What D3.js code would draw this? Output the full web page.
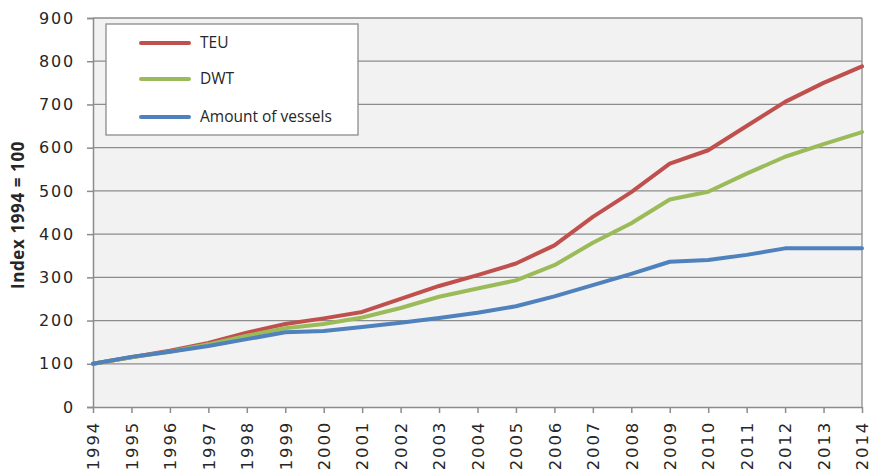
<!DOCTYPE html>
<html>
<head>
<meta charset="utf-8">
<script src="https://cdn.jsdelivr.net/npm/d3@7"></script>
<style>
  html, body { margin: 0; padding: 0; background: #ffffff; }
  svg { display: block; }
  text { font-family: "Open Sans", "Liberation Sans", sans-serif; fill: #262626; }
</style>
</head>
<body>
<svg id="chart" width="875" height="470"></svg>
<script>
// Fleet growth indexed to 1994 = 100
const years = [1994, 1995, 1996, 1997, 1998, 1999, 2000, 2001, 2002, 2003, 2004,
               2005, 2006, 2007, 2008, 2009, 2010, 2011, 2012, 2013, 2014];
const teu     = [100, 115, 130, 148, 172, 192, 205, 220, 250, 280, 305,
                 332, 374, 440, 497, 563, 594, 650, 706, 750, 788];
const dwt     = [100, 115, 128, 145, 165, 182, 192, 207, 229, 255, 274,
                 293, 328, 380, 425, 480, 498, 540, 579, 608, 636];
const vessels = [100, 116, 128, 141, 157, 173, 176, 185, 195, 206, 218,
                 233, 256, 282, 308, 336, 340, 352, 367, 367, 367];
const yTicks = [0, 100, 200, 300, 400, 500, 600, 700, 800, 900];
const seriesNames = ["TEU", "DWT", "Amount of vessels"];
const seriesColors = ["#c0504d", "#9bbb59", "#4f81bd"];

const svg = d3.select("#chart");
const plot = { left: 93, right: 862, top: 18, bottom: 407 };

const x = d3.scaleLinear().domain([1994, 2014]).range([plot.left, plot.right]);
const y = d3.scaleLinear().domain([0, 900]).range([plot.bottom, plot.top]);

// plot background
svg.append("rect")
  .attr("x", plot.left).attr("y", plot.top)
  .attr("width", plot.right - plot.left).attr("height", plot.bottom - plot.top)
  .attr("fill", "#f2f2f2");

// horizontal gridlines
svg.append("g").selectAll("line").data(yTicks.filter(d => d > 0)).join("line")
  .attr("x1", plot.left).attr("x2", plot.right)
  .attr("y1", d => y(d)).attr("y2", d => y(d))
  .attr("stroke", "#8c8c8c").attr("stroke-width", 1.3);

// right border
svg.append("line")
  .attr("x1", plot.right).attr("x2", plot.right).attr("y1", plot.top).attr("y2", plot.bottom)
  .attr("stroke", "#8c8c8c").attr("stroke-width", 1.3);

// y axis
const yAxis = svg.append("g")
  .attr("transform", `translate(${plot.left},0)`)
  .call(d3.axisLeft(y).tickValues(yTicks).tickSize(6).tickPadding(12).tickFormat(d3.format("d")));
yAxis.selectAll("path, line").attr("stroke", "#8c8c8c").attr("stroke-width", 1.5);
yAxis.selectAll("text")
  .attr("font-size", 16)
  .attr("letter-spacing", 1.8)
  .style("font-family", "'DejaVu Sans', sans-serif")
  .attr("fill", "#303030");

// x axis
const xAxis = svg.append("g")
  .attr("transform", `translate(0,${plot.bottom})`)
  .call(d3.axisBottom(x).tickValues(years).tickSize(6).tickSizeOuter(0).tickFormat(d3.format("d")));
xAxis.selectAll("path, line").attr("stroke", "#8c8c8c").attr("stroke-width", 1.5);
xAxis.selectAll("text")
  .attr("font-size", 16.5)
  .attr("letter-spacing", 1.8)
  .style("font-family", "'DejaVu Sans', sans-serif")
  .attr("fill", "#303030")
  .attr("text-anchor", "end")
  .attr("transform", "rotate(-90)")
  .attr("x", -14).attr("y", 0).attr("dy", "0.35em");

// axis title
svg.append("text")
  .attr("transform", `translate(24,215) rotate(-90)`)
  .attr("text-anchor", "middle")
  .attr("font-size", 17)
  .attr("letter-spacing", 0.6)
  .attr("font-weight", "bold")
  .text("Index 1994 = 100");

// series lines
const line = d3.line().x((d, i) => x(years[i])).y(d => y(d));
[teu, dwt, vessels].forEach((vals, i) => {
  svg.append("path")
    .datum(vals)
    .attr("d", line)
    .attr("fill", "none")
    .attr("stroke", seriesColors[i])
    .attr("stroke-width", 4)
    .attr("stroke-linejoin", "round")
    .attr("stroke-linecap", "round");
});

// legend
const legend = svg.append("g");
legend.append("rect")
  .attr("x", 106).attr("y", 24).attr("width", 252).attr("height", 111)
  .attr("fill", "#ffffff").attr("stroke", "#8c8c8c").attr("stroke-width", 1.3);
const legendY = [43, 79, 117];
seriesNames.forEach((name, i) => {
  legend.append("line")
    .attr("x1", 141).attr("x2", 189)
    .attr("y1", legendY[i]).attr("y2", legendY[i])
    .attr("stroke", seriesColors[i]).attr("stroke-width", 4)
    .attr("stroke-linecap", "round");
  legend.append("text")
    .attr("x", 200).attr("y", legendY[i]).attr("dy", "0.35em")
    .attr("font-size", 15.5)
    .text(name);
});
</script>
</body>
</html>
